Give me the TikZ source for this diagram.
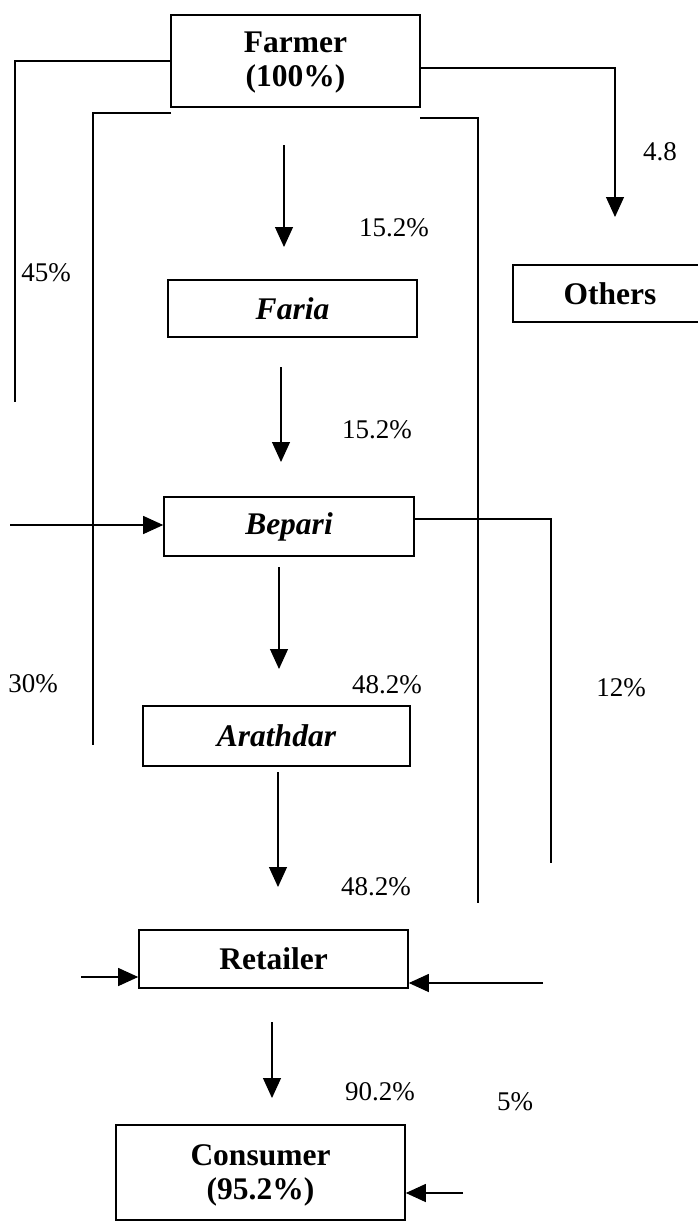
\documentclass[tikz,border=0pt]{standalone}
\usepackage{fontspec}
\setmainfont{Liberation Serif}
\usetikzlibrary{arrows.meta}
\begin{document}
\begin{tikzpicture}[x=1pt,y=-1pt,
  box/.style={draw, line width=1.6pt, inner sep=0pt, align=center,
    font=\fontsize{31.5}{35}\selectfont\bfseries},
  ibox/.style={box, font=\fontsize{31.5}{35}\selectfont\bfseries\itshape},
  conn/.style={line width=1.1pt},
  arr/.style={conn, -{Triangle[length=20pt,width=18pt]}},
  lbl/.style={inner sep=0pt, font=\fontsize{27}{30}\selectfont}]
\useasboundingbox (0,0) rectangle (697,1223);
% boxes
\node[box, minimum width=249pt, minimum height=92pt] (farmer) at (295.5,61) {};
\node[ibox, minimum width=249pt, minimum height=57pt] (faria) at (292.5,308.5) {Faria};
\node[box, minimum width=194pt, minimum height=57pt] (others) at (610,293.5) {Others};
\node[ibox, minimum width=250pt, minimum height=59pt] (bepari) at (289,526.5) {Bepari};
\node[ibox, minimum width=267pt, minimum height=60pt] (arathdar) at (276.5,736) {Arathdar};
\node[box, minimum width=269pt, minimum height=58pt] (retailer) at (273.5,959) {Retailer};
\node[box, minimum width=289pt, minimum height=95pt] (consumer) at (260.5,1172.5) {};
\node[box, draw=none, font=\fontsize{31.5}{34}\selectfont\bfseries] (farmertxt) at (295.5,63) {Farmer\\(100\%)};
\node[box, draw=none, font=\fontsize{31.5}{34}\selectfont\bfseries] (consumertxt) at (260.5,1175) {Consumer\\(95.2\%)};
% coordinates for free ends
\coordinate (f1) at (284,145); \coordinate (f2) at (284,247);
\coordinate (b1) at (281,367); \coordinate (b2) at (281,462);
\coordinate (a1) at (279,567); \coordinate (a2) at (279,669);
\coordinate (r1) at (278,772); \coordinate (r2) at (278,887);
\coordinate (c1) at (272,1022); \coordinate (c2) at (272,1098);
\coordinate (L45a) at (15,61); \coordinate (L45b) at (15,402);
\coordinate (L30a) at (171,113); \coordinate (L30b) at (93,113); \coordinate (L30c) at (93,745);
\coordinate (Ro) at (615,68); \coordinate (Rob) at (615,217);
\coordinate (R1a) at (420,118); \coordinate (R1b) at (478,118); \coordinate (R1c) at (478,903);
\coordinate (B12a) at (551,519); \coordinate (B12b) at (551,863);
\coordinate (Bin) at (10,525);
\coordinate (RetL) at (81,977);
\coordinate (RetR) at (543,983);
\coordinate (ConR) at (463,1193);
% vertical main arrows
\draw[arr] (f1) -- (f2);
\draw[arr] (b1) -- (b2);
\draw[arr] (a1) -- (a2);
\draw[arr] (r1) -- (r2);
\draw[arr] (c1) -- (c2);
% side lines
\draw[conn] (farmer.west) -- (L45a) -- (L45b);
\draw[conn] (L30a) -- (L30b) -- (L30c);
\draw[conn] (R1a) -- (R1b) -- (R1c);
\draw[arr] (farmer.east |- Ro) -- (Ro) -- (Rob);
\draw[conn] (bepari.east |- B12a) -- (B12a) -- (B12b);
\draw[arr] (Bin) -- (bepari.west |- Bin);
\draw[arr] (RetL) -- (retailer.west |- RetL);
\draw[arr] (RetR) -- (retailer.east |- RetR);
\draw[arr] (ConR) -- (consumer.east |- ConR);
% labels
\node[lbl] (l48o) at (660,152) {4.8};
\node[lbl] (l152a) at (394,228) {15.2\%};
\node[lbl] (l45) at (46,273) {45\%};
\node[lbl] (l152b) at (377,430) {15.2\%};
\node[lbl] (l30) at (33,684) {30\%};
\node[lbl] (l482a) at (387,685) {48.2\%};
\node[lbl] (l12) at (621,688) {12\%};
\node[lbl] (l482b) at (376,887) {48.2\%};
\node[lbl] (l902) at (380,1092) {90.2\%};
\node[lbl] (l5) at (515,1102) {5\%};
\end{tikzpicture}
\end{document}
